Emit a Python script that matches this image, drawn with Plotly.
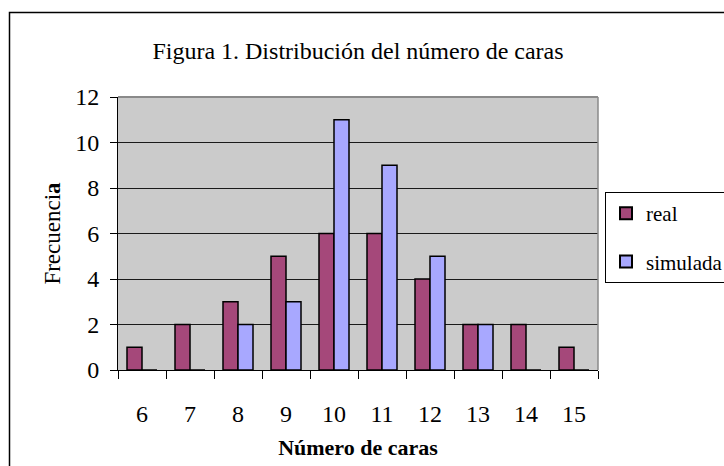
import plotly.graph_objects as go

categorias = ["6", "7", "8", "9", "10", "11", "12", "13", "14", "15"]
real = [1, 2, 3, 5, 6, 6, 4, 2, 2, 1]
simulada = [0, 0, 2, 3, 11, 9, 5, 2, 0, 0]
y_ticks = [0, 2, 4, 6, 8, 10, 12]

FONT = "Liberation Serif, Times New Roman, serif"

fig = go.Figure()
fig.add_trace(go.Bar(
    x=categorias, y=real, name="real", legendgroup="a",
    marker=dict(color="#A5487A", line=dict(color="black", width=1.5)),
))
fig.add_trace(go.Bar(
    x=categorias, y=simulada, name="simulada", legendgroup="b",
    marker=dict(color="#A8A8FF", line=dict(color="black", width=1.5)),
))

L, R, T, B = 118, 126, 97, 96
W, H = 724, 466
pw, ph = W - L - R, H - T - B

def px_x(px):
    return (px - L) / pw

def px_y(py):
    return (H - B - py) / ph

fig.update_layout(
    width=W, height=H,
    margin=dict(l=L, r=R, t=T, b=B, autoexpand=False),
    paper_bgcolor="white",
    plot_bgcolor="#CBCBCB",
    barmode="group",
    bargap=0.375,
    bargroupgap=0,
    font=dict(family=FONT, color="black"),
    title=dict(
        text="Figura 1. Distribución del número de caras",
        font=dict(family=FONT, size=24, color="black"),
        x=0.5, xref="paper", xanchor="center",
        y=1 - 51 / H, yref="container", yanchor="middle",
    ),
    xaxis=dict(
        type="category",
        tickson="boundaries",
        ticks="outside", ticklen=8, tickcolor="black", tickwidth=1,
        showline=True, linecolor="black", linewidth=1,
        showgrid=False,
        tickfont=dict(family=FONT, size=24, color="black"),
        ticklabelstandoff=22,
        title=dict(text="<b>Número de caras</b>",
                   font=dict(family=FONT, size=22, color="black"),
                   standoff=13),
    ),
    yaxis=dict(
        range=[0, 12],
        tickvals=y_ticks,
        ticks="outside", ticklen=7, tickcolor="black", tickwidth=1,
        showline=True, linecolor="black", linewidth=1,
        showgrid=True, gridcolor="#1a1a1a", gridwidth=1,
        zeroline=False,
        tickfont=dict(family=FONT, size=24, color="black"),
        ticklabelstandoff=6,
        title=dict(text="Frecuenci<b>a</b>",
                   font=dict(family=FONT, size=23, color="black"),
                   standoff=8),
    ),
    legend=dict(
        x=px_x(605), xanchor="left",
        y=px_y(192), yanchor="top",
        bgcolor="white", bordercolor="black", borderwidth=1,
        font=dict(family=FONT, size=21, color="black"),
        traceorder="grouped", tracegroupgap=18,
        itemwidth=30,
        itemsizing="constant",
    ),
    shapes=[
        dict(type="line", xref="paper", yref="paper", x0=0, x1=1, y0=1, y1=1,
             line=dict(color="#8a8a8a", width=2), layer="above"),
        dict(type="line", xref="paper", yref="paper", x0=1, x1=1, y0=0, y1=1,
             line=dict(color="#8a8a8a", width=1.5), layer="above"),
        dict(type="rect", xref="paper", yref="paper",
             x0=px_x(9.5), x1=px_x(730), y0=px_y(480), y1=px_y(12.5),
             line=dict(color="black", width=1.5), layer="below"),
    ],
)

fig.write_html(
    "out.html",
    config={"displayModeBar": False},
    post_script="document.body.style.margin='0px';document.body.style.overflow='hidden';",
)
